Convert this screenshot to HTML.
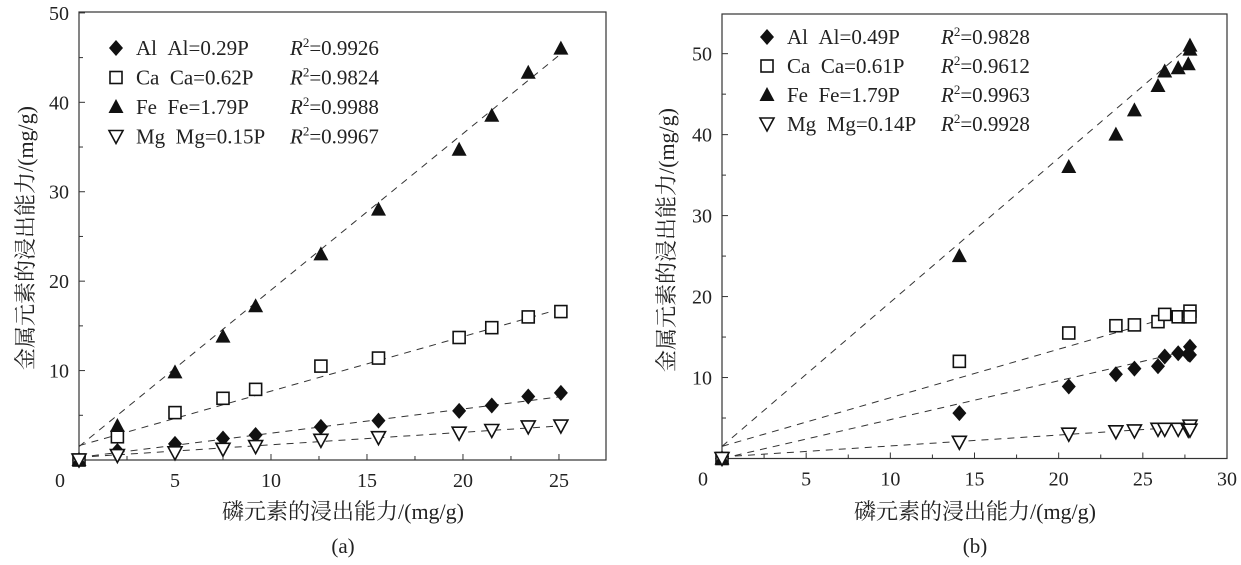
<!DOCTYPE html>
<html><head><meta charset="utf-8"><style>
body{margin:0;background:#fff;width:1241px;height:560px;overflow:hidden}
text{font-family:"Liberation Serif","DejaVu Serif","Noto Serif CJK SC",serif;fill:#222}
</style></head><body>
<svg id="c" width="1241" height="560" font-family="'Liberation Serif','DejaVu Serif','Noto Serif CJK SC',serif"></svg>
<script>
// Panel (a) data
const aX=[0,2,5,7.5,9.2,12.6,15.6,19.8,21.5,23.4,25.1];
const aFe=[0,3.8,9.8,13.8,17.2,23,28,34.7,38.5,43.3,46];
const aCa=[0,2.6,5.3,6.9,7.9,10.5,11.4,13.7,14.8,16,16.6];
const aAl=[0,1,1.8,2.4,2.8,3.7,4.4,5.5,6.1,7.1,7.5];
const aMg=[0,0.5,0.8,1.2,1.5,2.2,2.5,3.0,3.3,3.7,3.8];
const aFit=[[0.3,0.27],[1.6,0.61],[1.5,1.75],[0.3,0.14]];
const aLeg=["Al  Al=0.29P","Ca  Ca=0.62P","Fe  Fe=1.79P","Mg  Mg=0.15P"];
const aR2=["=0.9926","=0.9824","=0.9988","=0.9967"];
const aXTicks=[5,10,15,20,25];
const aYTicks=[10,20,30,40,50];
// Panel (b) data
const bX=[0,14.1,20.6,23.4,24.5,25.9,26.3,27.1,27.7,27.8,27.8];
const bFe=[0,25,36,40,43,46,47.8,48.2,48.7,51,50.5];
const bCa=[0,12,15.5,16.4,16.5,16.9,17.8,17.5,17.5,18.2,17.5];
const bAl=[0,5.6,8.9,10.4,11.1,11.4,12.6,13,12.9,13.8,12.8];
const bMg=[0,2,3,3.3,3.4,3.6,3.6,3.6,3.5,4,3.5];
const bFit=[[0,0.48],[1.5,0.6],[1.5,1.78],[0.2,0.135]];
const bLeg=["Al  Al=0.49P","Ca  Ca=0.61P","Fe  Fe=1.79P","Mg  Mg=0.14P"];
const bR2=["=0.9828","=0.9612","=0.9963","=0.9928"];
const bXTicks=[5,10,15,20,25,30];
const bYTicks=[10,20,30,40,50];

const FF="'Liberation Serif','DejaVu Serif','Noto Serif CJK SC',serif";
const svg=document.getElementById('c');const NS='http://www.w3.org/2000/svg';
function mk(t,a,p){const e=document.createElementNS(NS,t);for(const k in a)e.setAttribute(k,a[k]);if(t=='text')e.setAttribute('font-family',FF);(p||svg).appendChild(e);return e;}
function marker(k,x,y,g){
  let e;
  if(k==0)e=mk('polygon',{points:`${x},${y-8} ${x+7},${y} ${x},${y+8} ${x-7},${y}`,fill:'#111'},g);
  else if(k==1)e=mk('rect',{x:x-6,y:y-6,width:12,height:12,fill:'#fff',stroke:'#111','stroke-width':1.6},g);
  else if(k==2)e=mk('polygon',{points:`${x},${y-8} ${x+7.5},${y+6} ${x-7.5},${y+6}`,fill:'#111'},g);
  else e=mk('polygon',{points:`${x},${y+7} ${x+7},${y-6} ${x-7},${y-6}`,fill:'#fff',stroke:'#111','stroke-width':1.6},g);
  return e;
}
function panel(o){
  const g=mk('g',{});
  
  
  const sx=v=>o.L+v*(o.R-o.L)/o.xmax, sy=v=>o.B-v*(o.B-o.T)/o.ymax;
  const box=mk('rect',{x:o.L,y:o.T,width:o.R-o.L,height:o.B-o.T,fill:'none',stroke:'#333','stroke-width':1.2},g);
  
  for(let v=o.xminor;v<o.xmax;v+=o.xminor){const x=sx(v);const big=o.xt.some(t=>Math.abs(t-v)<1e-6);mk('line',{x1:x,x2:x,y1:o.B,y2:o.B-(big?6:4),stroke:'#333'},g);}
  for(let v=5;v<o.ymax;v+=5){const y=sy(v);const big=v%10==0;mk('line',{x1:o.L,x2:o.L+(big?6:4),y1:y,y2:y,stroke:'#333'},g);}
  o.xt.forEach(v=>{const t=mk('text',{x:sx(v),y:o.B+27,'text-anchor':'middle','font-size':20},g);t.textContent=v;});
  const z=mk('text',{x:o.L-19,y:o.B+27,'text-anchor':'middle','font-size':20},g);z.textContent='0';
  
  o.yt.forEach(v=>{const t=mk('text',{x:o.L-10,y:sy(v)+7,'text-anchor':'end','font-size':20},g);t.textContent=v;});
  o.fit.forEach((f,k)=>{const a=f[0],b=f[1];const x2=o.fitEnd;
    const l=mk('line',{x1:sx(0),y1:sy(a),x2:sx(x2),y2:sy(a+b*x2),stroke:'#333','stroke-width':1,'stroke-dasharray':'7,6'},g);
    });
  o.series.forEach((s,k)=>{s.forEach((v,i)=>{const m=marker(k,sx(o.x[i]),sy(v),g);
    });});
  o.leg.forEach((s,k)=>{const y=o.ly+k*o.ldy;
    const m=marker(k,o.lx,y,g);
    const t=mk('text',{x:o.lx+20,y:y+7,'font-size':21},g);t.textContent=s.replace('  ','\u00a0\u00a0');
    
    const r=mk('text',{x:o.rx,y:y+7,'font-size':21},g);
    r.innerHTML='<tspan font-style="italic">R</tspan><tspan font-size="13" dy="-8">2</tspan><tspan dy="8">'+o.r2[k]+'</tspan>';
    });
  const yt=mk('text',{transform:`translate(${o.ytx},${o.ytc}) rotate(-90)`,'text-anchor':'middle','font-size':22},g);
  yt.textContent='金属元素的浸出能力/(mg/g)';
  const xt=mk('text',{x:o.xtc,y:519,'text-anchor':'middle','font-size':22},g);
  xt.textContent='磷元素的浸出能力/(mg/g)';
  const cp=mk('text',{x:o.cx,y:553,'text-anchor':'middle','font-size':21},g);
  cp.textContent='('+o.id+')';
}
panel({id:'a',L:79,R:606,T:12,B:460,xmax:27.45,ymax:50.1,xminor:2.5,xt:aXTicks,yt:aYTicks,x:aX,series:[aAl,aCa,aFe,aMg],fit:aFit,fitEnd:25.2,
  leg:aLeg,r2:aR2,lx:116,ly:48,ldy:29.5,rx:290,cx:343,xtc:343,ytx:33,ytc:238});
panel({id:'b',L:722,R:1227,T:14,B:458.5,xmax:30,ymax:54.9,xminor:2.5,xt:bXTicks,yt:bYTicks,x:bX,series:[bAl,bCa,bFe,bMg],fit:bFit,fitEnd:27.9,
  leg:bLeg,r2:bR2,lx:767,ly:37,ldy:29,rx:941,cx:975,xtc:975,ytx:674,ytc:240});
</script>
</body></html>
